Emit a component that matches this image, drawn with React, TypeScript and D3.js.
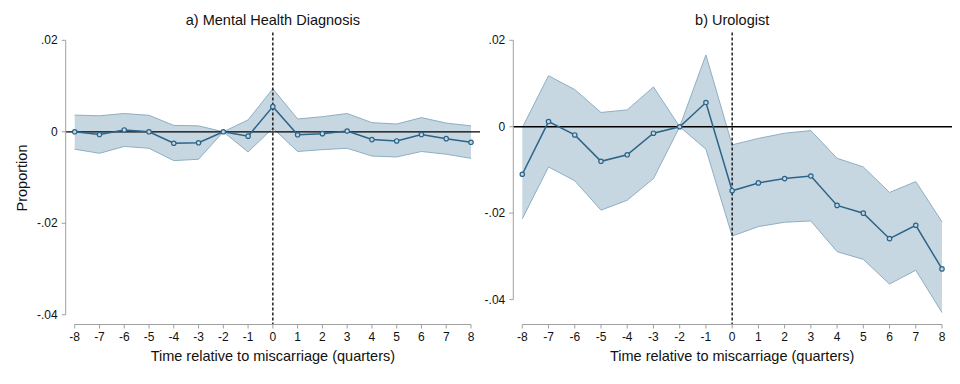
import React from "react";
import * as d3 from "d3";

const quarters = [-8, -7, -6, -5, -4, -3, -2, -1, 0, 1, 2, 3, 4, 5, 6, 7, 8];

const mentalEst = [0, -0.0006, 0.0004, 0, -0.0025, -0.0024, 0, -0.00095, 0.0055, -0.00066, -0.0004, 0.00015, -0.0017, -0.002, -0.0006, -0.0015, -0.0023];
const mentalHi = [0.00365, 0.0035, 0.004, 0.0036, 0.0014, 0.0013, 0, 0.0026, 0.0094, 0.0028, 0.0033, 0.004, 0.002, 0.0017, 0.0031, 0.0019, 0.0013];
const mentalLo = [-0.0038, -0.0047, -0.0032, -0.0036, -0.0063, -0.006, 0, -0.0044, 0.0008, -0.0043, -0.0039, -0.0036, -0.0053, -0.0055, -0.0043, -0.0049, -0.0058];

const uroEst = [-0.011, 0.0012, -0.0019, -0.008, -0.0065, -0.0015, 0, 0.0056, -0.0148, -0.013, -0.012, -0.0114, -0.0182, -0.02, -0.0259, -0.0228, -0.0329];
const uroHi = [-0.0002, 0.0118, 0.0086, 0.0033, 0.0039, 0.0092, 0, 0.0166, -0.0042, -0.0027, -0.0015, -0.0009, -0.0073, -0.0093, -0.0152, -0.0127, -0.022];
const uroLo = [-0.0213, -0.0093, -0.0125, -0.0193, -0.017, -0.012, 0, -0.0052, -0.0253, -0.0231, -0.0221, -0.0218, -0.0289, -0.0307, -0.0364, -0.0332, -0.043];

const yTicks = [0.02, 0, -0.02, -0.04];
const yTickLabels = [".02", "0", "-.02", "-.04"];

const FONT = "'Liberation Sans', Arial, Helvetica, sans-serif";
const AXIS = "#a0a0a0";
const LINE = "#2b6488";
const FILL = "#c6d7e1";
const EDGE = "#8eafc2";

type PanelProps = {
  title: string;
  est: number[];
  hi: number[];
  lo: number[];
  yAxisX: number;
  xLeft: number;
  xRight: number;
  yTop: number;
  yBottom: number;
  plotRight: number;
};

function Panel(p: PanelProps) {
  const x = d3.scaleLinear().domain([-8, 8]).range([p.xLeft, p.xRight]);
  const y = d3.scaleLinear().domain([0.02, -0.04]).range([p.yTop, p.yBottom]);
  const axisY = 324.5;

  const area = d3
    .area<number>()
    .x((_, i) => x(quarters[i]))
    .y0((_, i) => y(p.lo[i]))
    .y1((_, i) => y(p.hi[i]));
  const line = d3
    .line<number>()
    .x((_, i) => x(quarters[i]))
    .y((d) => y(d));
  const upper = d3
    .line<number>()
    .x((_, i) => x(quarters[i]))
    .y((d) => y(d));

  const cx = (p.xLeft + p.xRight) / 2;

  return (
    <g>
      <text x={cx} y={25} textAnchor="middle" fontSize={14.5} fontFamily={FONT} fill="#111">
        {p.title}
      </text>
      <path d={area(p.est) || ""} fill={FILL} stroke="none" />
      <path d={upper(p.hi) || ""} fill="none" stroke={EDGE} strokeWidth={1} />
      <path d={upper(p.lo) || ""} fill="none" stroke={EDGE} strokeWidth={1} />
      <line x1={p.yAxisX} x2={p.plotRight} y1={y(0)} y2={y(0)} stroke="#000" strokeWidth={1.3} />
      <line x1={x(0)} x2={x(0)} y1={32.5} y2={axisY} stroke="#000" strokeWidth={1.3} strokeDasharray="3,2" />
      <path d={line(p.est) || ""} fill="none" stroke={LINE} strokeWidth={1.5} />
      {p.est.map((d, i) => (
        <circle key={i} cx={x(quarters[i])} cy={y(d)} r={2.2} fill={FILL} stroke={LINE} strokeWidth={1.2} />
      ))}
      {/* y axis */}
      <line x1={p.yAxisX} x2={p.yAxisX} y1={y(0.02)} y2={y(-0.04)} stroke={AXIS} strokeWidth={1} />
      {yTicks.map((t, i) => (
        <g key={t}>
          <line x1={p.yAxisX - 4} x2={p.yAxisX} y1={y(t)} y2={y(t)} stroke={AXIS} strokeWidth={1} />
          <text x={p.yAxisX - 8} y={y(t) + 4} textAnchor="end" fontSize={12} fontFamily={FONT} fill="#111">
            {yTickLabels[i]}
          </text>
        </g>
      ))}
      {/* x axis */}
      <line x1={x(-8)} x2={x(8)} y1={axisY} y2={axisY} stroke={AXIS} strokeWidth={1} />
      {quarters.map((q) => (
        <g key={q}>
          <line x1={x(q)} x2={x(q)} y1={axisY} y2={axisY + 4} stroke={AXIS} strokeWidth={1} />
          <text x={x(q)} y={341} textAnchor="middle" fontSize={12} fontFamily={FONT} fill="#111">
            {q}
          </text>
        </g>
      ))}
      <text x={cx} y={361} textAnchor="middle" fontSize={14.5} fontFamily={FONT} fill="#111">
        Time relative to miscarriage (quarters)
      </text>
    </g>
  );
}

export default function App() {
  return (
    <svg width={960} height={384} style={{ position: "absolute", left: 0, top: 0, background: "#fff" }}>
      <rect width={960} height={384} fill="#fff" />
      <text
        transform="translate(27,178) rotate(-90)"
        textAnchor="middle"
        fontSize={14.5}
        fontFamily={FONT}
        fill="#111"
      >
        Proportion
      </text>
      <Panel
        title="a) Mental Health Diagnosis"
        est={mentalEst}
        hi={mentalHi}
        lo={mentalLo}
        yAxisX={65.7}
        xLeft={74.7}
        xRight={471}
        yTop={40.3}
        yBottom={314.8}
        plotRight={480}
      />
      <Panel
        title="b) Urologist"
        est={uroEst}
        hi={uroHi}
        lo={uroLo}
        yAxisX={513.3}
        xLeft={522.3}
        xRight={942}
        yTop={40.3}
        yBottom={299.6}
        plotRight={952}
      />
    </svg>
  );
}
